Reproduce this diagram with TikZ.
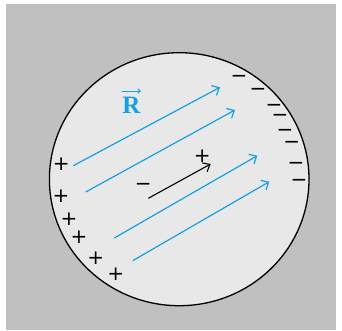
\documentclass[tikz,border=0pt]{standalone}
\usepackage{fontspec}
\usepackage{xcolor}
\usepackage{tikz}
\usetikzlibrary{arrows.meta}
\newfontfamily\signfont{DejaVu Sans}
\newfontfamily\labelfont{Liberation Serif}
\definecolor{bgray}{HTML}{C0C0C0}
\definecolor{cgray}{HTML}{E8E8E8}
\definecolor{fblue}{RGB}{20,160,225}
\tikzstyle{charge} = [inner sep=0pt, font=\signfont\fontsize{20}{20}\selectfont]
\tikzstyle{fieldarrow} = [draw=fblue, line width=1.2pt, -{Straight Barb[length=6pt,width=11pt,line width=1.2pt]}]
\tikzstyle{dipole} = [draw, line width=1.1pt, -{Straight Barb[length=6pt,width=10pt,line width=1.1pt]}]

\begin{document}
\begin{tikzpicture}[x=1pt, y=-1pt]
    \useasboundingbox (0,0) rectangle (342,331);
    % background and sphere
    \fill[bgray] (6,4) rectangle (336,330);
    \draw[fill=cgray, line width=1.3pt] (179.2,179.2) ellipse [x radius=129.8, y radius=126.5];
    % field label
    \node[text=fblue, inner sep=0pt, anchor=south, font=\labelfont\fontsize{25}{25}\selectfont\bfseries] at (131.5,113.3) (rlab) {R};
    \draw[fblue, line width=1pt, -{Straight Barb[length=2.5pt,width=4.5pt]}] ([xshift=-9.5pt,yshift=5.5pt]rlab.north) -- ([xshift=9.5pt,yshift=5.5pt]rlab.north);
    % field lines
    \coordinate (f1s) at (73.3,165.7);  \coordinate (f1e) at (220,87.3);
    \coordinate (f2s) at (85.7,192);    \coordinate (f2e) at (235,110);
    \coordinate (f3s) at (114.3,238);   \coordinate (f3e) at (257.3,155.7);
    \coordinate (f4s) at (132.7,260.7); \coordinate (f4e) at (269.3,181.7);
    \path[fieldarrow] (f1s) -- (f1e);
    \path[fieldarrow] (f2s) -- (f2e);
    \path[fieldarrow] (f3s) -- (f3e);
    \path[fieldarrow] (f4s) -- (f4e);
    % induced dipole
    \coordinate (ds) at (148.3,198.3);
    \coordinate (de) at (210.7,164);
    \path[dipole] (ds) -- (de);
    \node[charge] at (202.3,156.7) (dplus) {+};
    \node[charge] at (143.3,186.7) (dminus) {−};
    % surface charges
    \foreach \x/\y [count=\i] in {61.3/164, 61/196.7, 69/219, 79/237.7, 95.7/258.3, 115.7/274}
        \node[charge] at (\x,\y) (p\i) {+};
    \foreach \x/\y [count=\i] in {239/78.7, 258/92.3, 274/108.3, 280/118.3, 285/132.7, 291.7/145, 296/165.7, 299/183}
        \node[charge] at (\x,\y) (m\i) {−};
\end{tikzpicture}
\end{document}
